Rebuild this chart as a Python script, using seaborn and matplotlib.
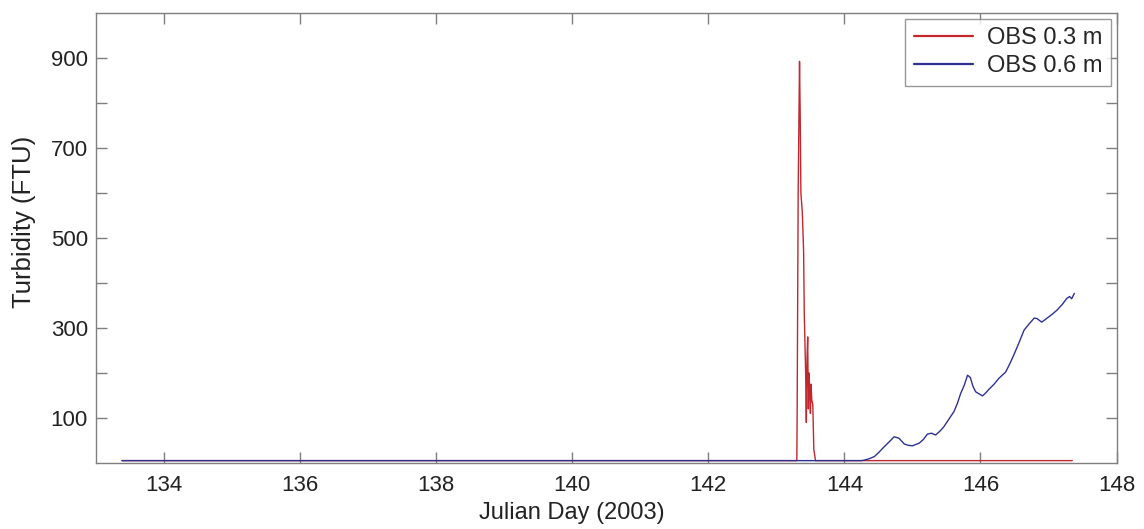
import numpy as np
import pandas as pd
import matplotlib
matplotlib.use("Agg")
import matplotlib.pyplot as plt
import seaborn as sns
from matplotlib.ticker import FixedLocator

# ---- data ----
red_day = [133.38, 143.30, 143.305, 143.32, 143.34, 143.35, 143.36, 143.38, 143.40,
           143.41, 143.43, 143.44, 143.45, 143.46, 143.47, 143.48, 143.49, 143.50,
           143.51, 143.52, 143.535, 143.55, 143.575, 147.35]
red_val = [5, 5, 105, 600, 893, 772, 600, 560, 470,
           330, 200, 90, 230, 280, 120, 200, 162, 110,
           175, 140, 130, 30, 5, 5]

blue_day = [133.38, 144.25, 144.29, 144.36, 144.44, 144.51, 144.585, 144.66, 144.73,
            144.80, 144.88, 144.94, 145.00, 145.10, 145.16, 145.22, 145.28, 145.34,
            145.40, 145.46, 145.53, 145.61, 145.66, 145.71, 145.76, 145.81, 145.85,
            145.89, 145.93, 146.03, 146.08, 146.12, 146.20, 146.27, 146.37, 146.43,
            146.49, 146.56, 146.64, 146.72, 146.79, 146.83, 146.90, 146.98, 147.05,
            147.12, 147.20, 147.27, 147.31, 147.34, 147.38]
blue_val = [5, 5, 6, 9, 14, 24, 36, 47, 58,
            55, 42, 39, 38, 44, 52, 64, 66, 62,
            70, 80, 96, 114, 132, 155, 172, 195, 190,
            170, 158, 149, 156, 163, 175, 188, 202, 220,
            240, 265, 295, 310, 322, 321, 313, 322, 330,
            339, 352, 366, 370, 365, 377]

series_names = ["OBS 0.3 m", "OBS 0.6 m"]
series_colors = ["#c1272d", "#2e3192"]

x_ticks = [134, 136, 138, 140, 142, 144, 146, 148]
y_major = [100, 300, 500, 700, 900]
y_minor = [200, 400, 600, 800]

df = pd.concat([
    pd.DataFrame({"day": red_day, "turb": red_val, "series": series_names[0]}),
    pd.DataFrame({"day": blue_day, "turb": blue_val, "series": series_names[1]}),
], ignore_index=True)

sns.set_theme(style="white")
plt.rcParams["font.family"] = ["Liberation Sans", "DejaVu Sans"]

fig = plt.figure(figsize=(11.44, 5.29), dpi=100)
ax = fig.add_axes([0.084, 0.125, 0.892, 0.850])

sns.lineplot(data=df, x="day", y="turb", hue="series", hue_order=series_names,
             palette=dict(zip(series_names, series_colors)), sort=False,
             estimator=None, linewidth=1.0, ax=ax)

ax.set_xlim(133, 148)
ax.set_ylim(0, 1000)
ax.xaxis.set_major_locator(FixedLocator(x_ticks))
ax.yaxis.set_major_locator(FixedLocator(y_major))
ax.yaxis.set_minor_locator(FixedLocator(y_minor))
ax.set_xticklabels([str(t) for t in x_ticks])

spine_col = "#7f7f7f"
for s in ax.spines.values():
    s.set_color(spine_col)
    s.set_linewidth(1.0)

ax.tick_params(axis="both", which="both", direction="in", length=8, width=1.0,
               color=spine_col, top=True, right=True, bottom=True, left=True,
               labelsize=16, labelcolor="#222222")
ax.tick_params(axis="x", which="major", pad=9)
ax.tick_params(axis="y", which="major", pad=6)

ax.set_xlabel("Julian Day (2003)", fontsize=17, color="#222222")
ax.set_ylabel("Turbidity (FTU)", fontsize=18.5, color="#222222")
ax.xaxis.set_label_coords((572 - 96) / 1021, -(502 - 463) / 450)
ax.yaxis.set_label_coords((36 - 96) / 1021, (463 - 222) / 450)

leg = ax.legend(loc="upper right", fontsize=17, frameon=True, fancybox=False,
                handlelength=2.5, borderaxespad=0.25, edgecolor=spine_col,
                title=None, borderpad=0.35, labelspacing=0.25, handletextpad=0.6)
leg.get_frame().set_linewidth(1.0)
for line in leg.get_lines():
    line.set_linewidth(1.6)

fig.savefig("out.png", dpi=100)
